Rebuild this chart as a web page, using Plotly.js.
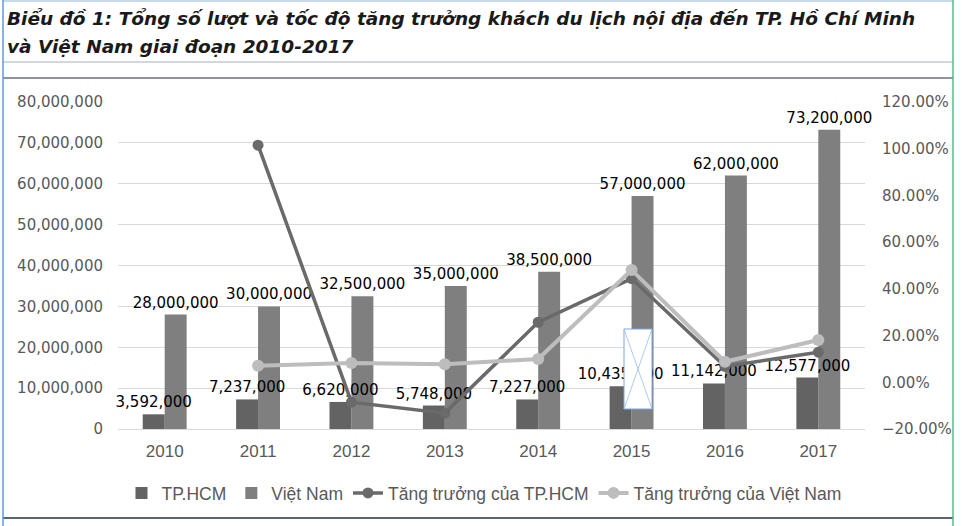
<!DOCTYPE html>
<html>
<head>
<meta charset="utf-8">
<script src="https://cdn.plot.ly/plotly-3.0.1.min.js"></script>
<style>
  body { margin: 0; background: #fff; }
  #chart { width: 962px; height: 526px; }
</style>
</head>
<body>
<div id="chart"></div>
<script>
// data
var years = ['2010', '2011', '2012', '2013', '2014', '2015', '2016', '2017'];
var hcmVisitors = [3592000, 7237000, 6620000, 5748000, 7227000, 10435000, 11142000, 12577000];
var vnVisitors = [28000000, 30000000, 32500000, 35000000, 38500000, 57000000, 62000000, 73200000];
var growthYears = ['2011', '2012', '2013', '2014', '2015', '2016', '2017'];
var hcmGrowth = [1.015, -0.085, -0.132, 0.257, 0.444, 0.068, 0.129];
var vnGrowth = [0.071, 0.083, 0.077, 0.100, 0.481, 0.088, 0.181];

var titleLine1 = 'Biểu đồ 1: Tổng số lượt và tốc độ tăng trưởng khách du lịch nội địa đến TP. Hồ Chí Minh';
var titleLine2 = 'và Việt Nam giai đoạn 2010-2017';

var sans = '"Liberation Sans", Arial, sans-serif';
var labelFont = {family: 'DejaVu Sans, sans-serif', size: 15, color: '#000'};
var barW = 0.235;

// VN bars first so the HCM labels are painted over them
var data = [
	{
		type: 'bar', name: 'Việt Nam', x: years, y: vnVisitors, legendrank: 2,
		offset: 0, width: barW,
		marker: {color: '#7f7f7f'},
		texttemplate: '%{y:,}', textposition: 'outside', textfont: labelFont,
		constraintext: 'none', cliponaxis: false, hoverinfo: 'skip'
	},
	{
		type: 'bar', name: 'TP.HCM', x: years, y: hcmVisitors, legendrank: 1,
		offset: -barW, width: barW,
		marker: {color: '#636363'},
		texttemplate: '%{y:,}', textposition: 'outside', textfont: labelFont,
		constraintext: 'none', cliponaxis: false, hoverinfo: 'skip'
	},
	{
		type: 'scatter', mode: 'lines+markers', name: 'Tăng trưởng của TP.HCM', legendrank: 3,
		x: growthYears, y: hcmGrowth, yaxis: 'y2',
		line: {color: '#6a6a6a', width: 3.5},
		marker: {color: '#6a6a6a', size: 11},
		cliponaxis: false
	},
	{
		type: 'scatter', mode: 'lines+markers', name: 'Tăng trưởng của Việt Nam', legendrank: 4,
		x: growthYears, y: vnGrowth, yaxis: 'y2',
		line: {color: '#bdbdbd', width: 4},
		marker: {color: '#bdbdbd', size: 12},
		cliponaxis: false
	}
];

// paper coords for frame lines (plot area 118..865 x, 102..429 y)
function px(v){ return (v - 118) / 747; }
function py(v){ return (429 - v) / 327; }

var shapes = [
	{type: 'line', xref: 'paper', yref: 'paper', x0: px(3), x1: px(953), y0: py(1), y1: py(1), line: {color: '#8fb4d8', width: 1}},
	{type: 'line', xref: 'paper', yref: 'paper', x0: px(3), x1: px(953), y0: py(62), y1: py(62), line: {color: '#a7b0ba', width: 1}},
	{type: 'line', xref: 'paper', yref: 'paper', x0: px(3), x1: px(953), y0: py(78), y1: py(78), line: {color: '#6b7080', width: 1.5}},
	{type: 'line', xref: 'paper', yref: 'paper', x0: px(3), x1: px(953), y0: py(518), y1: py(518), line: {color: '#5a6478', width: 2}},
	{type: 'line', xref: 'paper', yref: 'paper', x0: px(3), x1: px(3), y0: py(0), y1: py(526), line: {color: '#5b9bd5', width: 1.5}},
	{type: 'line', xref: 'paper', yref: 'paper', x0: px(953), x1: px(953), y0: py(0), y1: py(526), line: {color: '#4cc08a', width: 1.5}},
	// broken picture placeholder over the 2015 label
	{type: 'rect', xref: 'paper', yref: 'paper', layer: 'above', x0: px(624), x1: px(652), y0: py(409), y1: py(329),
		fillcolor: '#fff', line: {color: '#7ea6e0', width: 1}},
	{type: 'line', xref: 'paper', yref: 'paper', layer: 'above', x0: px(624), x1: px(652), y0: py(409), y1: py(329), line: {color: '#9bbbe8', width: 0.8}},
	{type: 'line', xref: 'paper', yref: 'paper', layer: 'above', x0: px(624), x1: px(652), y0: py(329), y1: py(409), line: {color: '#9bbbe8', width: 0.8}}
];

var titleFont = {family: 'DejaVu Sans, sans-serif', size: 18.5, color: '#1a1a1a', weight: 'bold', style: 'italic'};

var layout = {
	width: 962, height: 526,
	margin: {l: 118, r: 97, t: 102, b: 97, pad: 0},
	paper_bgcolor: '#fff', plot_bgcolor: '#fff',
	showlegend: true,
	barmode: 'overlay',
	xaxis: {
		type: 'category', showgrid: false, showline: false, zeroline: false,
		tickfont: {family: sans, size: 17, color: '#595959'},
		ticklabelstandoff: 10
	},
	yaxis: {
		range: [0, 80000000], dtick: 10000000, tickformat: ',',
		showgrid: true, gridcolor: '#d9d9d9', gridwidth: 1,
		zeroline: true, zerolinecolor: '#d9d9d9', zerolinewidth: 1,
		showline: false,
		tickfont: {family: 'DejaVu Sans, sans-serif', size: 15, color: '#595959'},
		ticklabelstandoff: 14
	},
	yaxis2: {
		overlaying: 'y', side: 'right',
		range: [-0.2, 1.2], dtick: 0.2, tickformat: '.2%',
		showgrid: false, zeroline: false, showline: false,
		tickfont: {family: 'DejaVu Sans, sans-serif', size: 15, color: '#595959'},
		ticklabelstandoff: 16
	},
	legend: {
		orientation: 'h', x: px(484), xanchor: 'center', y: py(493), yanchor: 'middle',
		font: {family: sans, size: 17.5, color: '#595959'},
		bgcolor: 'rgba(0,0,0,0)', traceorder: 'normal', itemwidth: 30
	},
	shapes: shapes,
	annotations: [
		{xref: 'paper', yref: 'paper', x: px(5), y: py(19), xanchor: 'left', yanchor: 'middle',
			showarrow: false, text: titleLine1, font: titleFont},
		{xref: 'paper', yref: 'paper', x: px(5), y: py(47), xanchor: 'left', yanchor: 'middle',
			showarrow: false, text: titleLine2, font: titleFont}
	]
};

Plotly.newPlot('chart', data, layout, {displayModeBar: false, staticPlot: true});
</script>
</body>
</html>
